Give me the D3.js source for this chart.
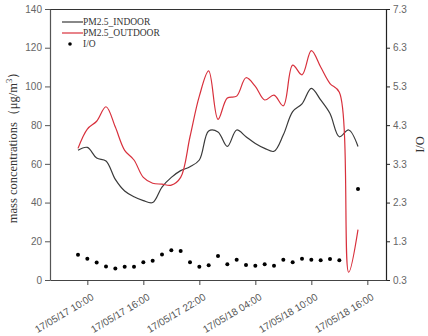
<!DOCTYPE html>
<html>
<head>
<meta charset="utf-8">
<script src="https://cdn.jsdelivr.net/npm/d3@7"></script>
<style>
  html, body { margin: 0; padding: 0; background: #fff; }
  svg { display: block; font-family: "Liberation Serif", "Times New Roman", serif; }
</style>
</head>
<body>
<svg id="chart" width="428" height="336"></svg>
<script>
// Hourly sampling times
const times = [
  "2017-05-17 09:00", "2017-05-17 10:00", "2017-05-17 11:00", "2017-05-17 12:00",
  "2017-05-17 13:00", "2017-05-17 14:00", "2017-05-17 15:00", "2017-05-17 16:00",
  "2017-05-17 17:00", "2017-05-17 18:00", "2017-05-17 19:00", "2017-05-17 20:00",
  "2017-05-17 21:00", "2017-05-17 22:00", "2017-05-17 23:00", "2017-05-18 00:00",
  "2017-05-18 01:00", "2017-05-18 02:00", "2017-05-18 03:00", "2017-05-18 04:00",
  "2017-05-18 05:00", "2017-05-18 06:00", "2017-05-18 07:00", "2017-05-18 08:00",
  "2017-05-18 09:00", "2017-05-18 10:00", "2017-05-18 11:00", "2017-05-18 12:00",
  "2017-05-18 13:00", "2017-05-18 14:00", "2017-05-18 15:00"
];

// PM2.5 mass concentrations (µg/m³)
const indoor = [
  67, 68.5, 63, 61.5, 52, 46, 43, 41, 40, 48, 53, 56.5, 58.5, 62, 77, 76.5,
  69, 77.5, 74, 70.5, 68, 66.5, 75, 87, 91, 99, 93, 86, 74, 77.5, 69
];
const outdoor = [
  68, 78, 82, 89.5, 79, 67, 62, 53, 50, 49.5, 49, 53, 74, 95, 108, 83,
  94, 95, 104.5, 100, 93, 95.5, 90, 111, 106, 118.5, 110, 101.5, 97, 4, 26
];

// Indoor / outdoor ratio (null where it lies above the axis range)
const ratio = [
  0.95, 0.85, 0.75, 0.65, 0.60, 0.64, 0.64, 0.76, 0.80, 0.96, 1.07, 1.05,
  0.76, 0.64, 0.68, 0.92, 0.71, 0.82, 0.69, 0.67, 0.71, 0.67, 0.82, 0.76,
  0.85, 0.82, 0.81, 0.84, 0.81, null, 2.65
];

const leftTicks = [0, 20, 40, 60, 80, 100, 120, 140];
const rightTicks = [0.3, 1.3, 2.3, 3.3, 4.3, 5.3, 6.3, 7.3];
const xTicks = [
  "2017-05-17 10:00", "2017-05-17 16:00", "2017-05-17 22:00",
  "2017-05-18 04:00", "2017-05-18 10:00", "2017-05-18 16:00"
];
const xDomain = ["2017-05-17 06:00", "2017-05-18 18:00"];

const seriesNames = ["PM2.5_INDOOR", "PM2.5_OUTDOOR", "I/O"];
const colors = { indoor: "#3a3a3a", outdoor: "#d8303c", ratio: "#000" };

const parse = d3.timeParse("%Y-%m-%d %H:%M");
const fmt = d3.timeFormat("%y/%m/%d %H:%M");

const m = { left: 50, right: 42, top: 9, bottom: 56 };
const W = 428, H = 336;
const svg = d3.select("#chart");

const x = d3.scaleTime().domain(xDomain.map(parse)).range([m.left, W - m.right]);
const yL = d3.scaleLinear().domain([0, 140]).range([H - m.bottom, m.top]);
const yR = d3.scaleLinear().domain([0.3, 7.3]).range([H - m.bottom, m.top]);

const rows = times.map((t, i) => ({ t: parse(t), ind: indoor[i], out: outdoor[i], r: ratio[i] }));

svg.append("clipPath").attr("id", "plot-clip")
  .append("rect").attr("x", m.left).attr("y", m.top)
  .attr("width", W - m.left - m.right).attr("height", H - m.top - m.bottom);

// Top frame line
svg.append("line")
  .attr("x1", m.left).attr("x2", W - m.right)
  .attr("y1", m.top + 0.5).attr("y2", m.top + 0.5)
  .attr("stroke", "#333").attr("stroke-width", 1.2);

// Left axis
const gL = svg.append("g").attr("transform", `translate(${m.left},0)`)
  .call(d3.axisLeft(yL).tickValues(leftTicks).tickSize(5).tickPadding(3).tickSizeOuter(0));
gL.select(".domain").attr("stroke", "#555").attr("stroke-width", 1.2);
gL.selectAll(".tick line").attr("stroke", "#555");
gL.selectAll(".tick text").attr("fill", "#666").style("font-size", "10px");

// Right axis
const gR = svg.append("g").attr("transform", `translate(${W - m.right},0)`)
  .call(d3.axisRight(yR).tickValues(rightTicks).tickFormat(d3.format(".1f"))
    .tickSize(4).tickPadding(3).tickSizeOuter(0));
gR.select(".domain").attr("stroke", "#222").attr("stroke-width", 1.2);
gR.selectAll(".tick line").attr("stroke", "#222");
gR.selectAll(".tick text").attr("fill", "#666").style("font-size", "10px");

// Bottom axis with slanted date labels
const gB = svg.append("g").attr("transform", `translate(0,${H - m.bottom})`)
  .call(d3.axisBottom(x).tickValues(xTicks.map(parse)).tickFormat(fmt)
    .tickSize(5).tickSizeOuter(0));
gB.select(".domain").attr("stroke", "#444").attr("stroke-width", 1.2);
gB.selectAll(".tick line").attr("stroke", "#444");
gB.selectAll(".tick text")
  .attr("fill", "#555").style("font-size", "10px")
  .attr("text-anchor", "end")
  .attr("x", 0).attr("y", 0).attr("dy", "0.35em")
  .attr("transform", "translate(5,16) rotate(-31)");

// Axis titles
svg.append("text")
  .attr("transform", `translate(17,${(m.top + H - m.bottom) / 2}) rotate(-90)`)
  .attr("text-anchor", "middle")
  .attr("fill", "#333").style("font-size", "12.5px")
  .html("mass concentrations（μg/m<tspan dy='-5' font-size='8.5px'>3</tspan><tspan dy='5'>）</tspan>");

svg.append("text")
  .attr("transform", `translate(424,${(m.top + H - m.bottom) / 2}) rotate(-90)`)
  .attr("text-anchor", "middle")
  .attr("fill", "#333").style("font-size", "12.5px")
  .text("I/O");

// Concentration curves
const plot = svg.append("g").attr("clip-path", "url(#plot-clip)");
const lineIn = d3.line().x(d => x(d.t)).y(d => yL(d.ind)).curve(d3.curveCatmullRom.alpha(0.5));
const lineOut = d3.line().x(d => x(d.t)).y(d => yL(d.out)).curve(d3.curveCatmullRom.alpha(0.5));

plot.append("path").datum(rows).attr("d", lineIn)
  .attr("fill", "none").attr("stroke", colors.indoor).attr("stroke-width", 1.2);
plot.append("path").datum(rows).attr("d", lineOut)
  .attr("fill", "none").attr("stroke", colors.outdoor).attr("stroke-width", 1.2);

// I/O points
plot.selectAll("circle.ratio").data(rows.filter(d => d.r != null)).join("circle")
  .attr("class", "ratio")
  .attr("cx", d => x(d.t)).attr("cy", d => yR(d.r))
  .attr("r", 2).attr("fill", colors.ratio);

// Legend
const lg = svg.append("g").attr("transform", "translate(62,22)");
const legendItems = [
  { name: seriesNames[0], color: colors.indoor, kind: "line" },
  { name: seriesNames[1], color: colors.outdoor, kind: "line" },
  { name: seriesNames[2], color: colors.ratio, kind: "dot" }
];
legendItems.forEach((d, i) => {
  const g = lg.append("g").attr("transform", `translate(0,${i * 11})`);
  if (d.kind === "line") {
    g.append("line").attr("x1", 0).attr("x2", 21).attr("y1", 0).attr("y2", 0)
      .attr("stroke", d.color).attr("stroke-width", 1.2);
  } else {
    g.append("circle").attr("cx", 8).attr("cy", 0).attr("r", 1.8).attr("fill", d.color);
  }
  g.append("text").attr("x", 21).attr("y", 0).attr("dy", "0.35em")
    .attr("fill", "#333").style("font-size", "9.5px").text(d.name);
});
</script>
</body>
</html>
